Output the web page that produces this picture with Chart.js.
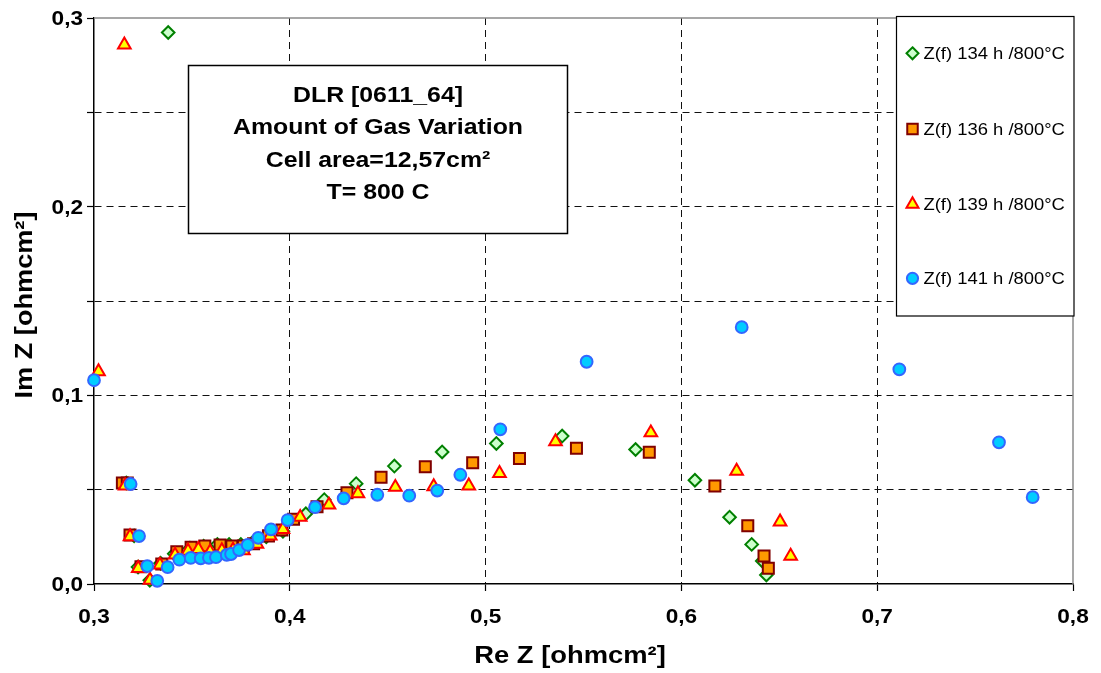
<!DOCTYPE html>
<html>
<head>
<meta charset="utf-8">
<title>DLR [0611_64] Amount of Gas Variation</title>
<script src="https://cdn.jsdelivr.net/npm/chart.js@4/dist/chart.umd.min.js"></script>
<style>
  html, body { margin: 0; padding: 0; background: #ffffff; }
  #wrap { width: 1101px; height: 673px; position: relative; }
</style>
</head>
<body>
<div id="wrap"><canvas id="nyquist" width="1101" height="673"></canvas></div>
<script>
// Impedance spectra (Nyquist plot): [Re Z, Im Z] in ohm·cm²
const seriesNames = ['Z(f) 134 h /800°C', 'Z(f) 136 h /800°C', 'Z(f) 139 h /800°C', 'Z(f) 141 h /800°C'];

const z134h = [
  [0.3379, 0.2923], [0.3165, 0.0535], [0.3205, 0.0255], [0.3225, 0.0090], [0.3285, 0.0020],
  [0.3340, 0.0110], [0.3410, 0.0160], [0.3490, 0.0190], [0.3560, 0.0200], [0.3630, 0.0210],
  [0.3690, 0.0210], [0.3750, 0.0210], [0.3810, 0.0220], [0.3880, 0.0250], [0.3965, 0.0280],
  [0.4082, 0.0372], [0.4176, 0.0447], [0.4339, 0.0532], [0.4534, 0.0625], [0.4778, 0.0700],
  [0.5055, 0.0745], [0.5391, 0.0784], [0.5766, 0.0713], [0.6069, 0.0550], [0.6246, 0.0354],
  [0.6359, 0.0210], [0.6413, 0.0122], [0.6434, 0.0048]
];

const z136h = [
  [0.3145, 0.0535], [0.3170, 0.0535], [0.3184, 0.0260], [0.3240, 0.0092], [0.3346, 0.0106],
  [0.3423, 0.0171], [0.3496, 0.0195], [0.3566, 0.0201], [0.3644, 0.0207], [0.3704, 0.0201],
  [0.3763, 0.0201], [0.3815, 0.0213], [0.3891, 0.0255], [0.3960, 0.0286], [0.4019, 0.0343],
  [0.4139, 0.0410], [0.4292, 0.0484], [0.4466, 0.0566], [0.4692, 0.0622], [0.4934, 0.0643],
  [0.5173, 0.0665], [0.5464, 0.0719], [0.5836, 0.0698], [0.6171, 0.0520], [0.6339, 0.0309],
  [0.6422, 0.0148], [0.6444, 0.0083]
];

const z139h = [
  [0.3023, 0.1126], [0.3155, 0.2858], [0.3159, 0.0520], [0.3184, 0.0251], [0.3226, 0.0083],
  [0.3286, 0.0021], [0.3337, 0.0101], [0.3414, 0.0154], [0.3480, 0.0175], [0.3533, 0.0184],
  [0.3593, 0.0171], [0.3653, 0.0177], [0.3710, 0.0180], [0.3763, 0.0177], [0.3832, 0.0212],
  [0.3900, 0.0255], [0.3965, 0.0290], [0.4053, 0.0354], [0.4200, 0.0419], [0.4348, 0.0479],
  [0.4539, 0.0513], [0.4735, 0.0516], [0.4914, 0.0520], [0.5071, 0.0587], [0.5357, 0.0755],
  [0.5844, 0.0802], [0.6282, 0.0599], [0.6504, 0.0330], [0.6558, 0.0148]
];

const z141h = [
  [0.3000, 0.1080], [0.3187, 0.0530], [0.3230, 0.0254], [0.3272, 0.0095], [0.3323, 0.0017],
  [0.3376, 0.0089], [0.3436, 0.0129], [0.3494, 0.0138], [0.3545, 0.0136], [0.3587, 0.0139],
  [0.3623, 0.0142], [0.3678, 0.0154], [0.3700, 0.0159], [0.3741, 0.0180], [0.3785, 0.0207],
  [0.3839, 0.0245], [0.3904, 0.0290], [0.3989, 0.0339], [0.4129, 0.0407], [0.4275, 0.0454],
  [0.4447, 0.0473], [0.4610, 0.0468], [0.4753, 0.0495], [0.4871, 0.0579], [0.5075, 0.0820],
  [0.5516, 0.1178], [0.6308, 0.1361], [0.7113, 0.1138], [0.7622, 0.0751], [0.7794, 0.0460]
];

const xTickValues = [0.3, 0.4, 0.5, 0.6, 0.7, 0.8];
const xTickLabels = ['0,3', '0,4', '0,5', '0,6', '0,7', '0,8'];
const yTickValues = [0.0, 0.1, 0.2, 0.3];
const yTickLabels = ['0,0', '0,1', '0,2', '0,3'];

const infoLines = ['DLR [0611_64]', 'Amount of Gas Variation', 'Cell area=12,57cm²', 'T= 800 C'];
const xTitle = 'Re Z [ohmcm²]';
const yTitle = 'Im Z [ohmcm²]';

// Marker styles per series
const markerStyles = [
  { style: 'rectRot',  radius: 6.3, fill: '#CCFFCC', stroke: '#008000' },
  { style: 'rect',     radius: 7.8, fill: '#FF9900', stroke: '#800000' },
  { style: 'triangle', radius: 7.3, fill: '#FFFF00', stroke: '#FF0000' },
  { style: 'circle',   radius: 5.9, fill: '#00CCFF', stroke: '#3366FF' }
];

const FONT = '"Liberation Sans", Arial, Helvetica, sans-serif';
const toPoints = arr => arr.map(([x, y]) => ({ x, y }));
const allSeries = [z134h, z136h, z139h, z141h];

const datasets = allSeries.map((arr, i) => ({
  label: seriesNames[i],
  data: toPoints(arr),
  showLine: false,
  pointStyle: markerStyles[i].style,
  pointRadius: markerStyles[i].radius,
  pointHoverRadius: markerStyles[i].radius,
  pointBackgroundColor: markerStyles[i].fill,
  pointBorderColor: markerStyles[i].stroke,
  pointBorderWidth: 2,
  clip: false,
  order: 4 - i   // later measurements are painted on top
}));

// Text drawn with a slight horizontal stretch
function wideText(ctx, text, x, y, align, sx, font, baseline) {
  ctx.save();
  ctx.font = font;
  ctx.fillStyle = '#000';
  ctx.textAlign = align;
  ctx.textBaseline = baseline || 'alphabetic';
  ctx.translate(x, y);
  ctx.scale(sx, 1);
  ctx.fillText(text, 0, 0);
  ctx.restore();
}

function drawMarker(ctx, m, x, y, scale) {
  ctx.save();
  ctx.fillStyle = m.fill;
  ctx.strokeStyle = m.stroke;
  ctx.lineWidth = 2;
  ctx.beginPath();
  const r = m.radius * scale;
  if (m.style === 'rectRot') {
    ctx.moveTo(x, y - r); ctx.lineTo(x + r, y); ctx.lineTo(x, y + r); ctx.lineTo(x - r, y); ctx.closePath();
  } else if (m.style === 'rect') {
    const h = Math.SQRT1_2 * r;
    ctx.rect(x - h, y - h, 2 * h, 2 * h);
  } else if (m.style === 'triangle') {
    ctx.moveTo(x, y - r);
    ctx.lineTo(x + r * Math.sin(2 * Math.PI / 3), y - r * Math.cos(2 * Math.PI / 3));
    ctx.lineTo(x + r * Math.sin(4 * Math.PI / 3), y - r * Math.cos(4 * Math.PI / 3));
    ctx.closePath();
  } else {
    ctx.arc(x, y, r, 0, Math.PI * 2);
  }
  ctx.fill();
  ctx.stroke();
  ctx.restore();
}

const frameAndLabels = {
  id: 'frameAndLabels',
  beforeDatasetsDraw(chart) {
    const { ctx, chartArea: a } = chart;
    // grey plot frame on top and right
    ctx.save();
    ctx.strokeStyle = '#8a8a8a';
    ctx.lineWidth = 1.5;
    ctx.beginPath();
    ctx.moveTo(a.left, a.top); ctx.lineTo(a.right, a.top); ctx.lineTo(a.right, a.bottom);
    ctx.stroke();
    ctx.restore();
  },
  afterDraw(chart) {
    const { ctx, chartArea: a } = chart;
    const xs = chart.scales.x, ys = chart.scales.y;
    const tickFont = 'bold 19.5px ' + FONT;

    xTickValues.forEach((v, i) => {
      wideText(ctx, xTickLabels[i], xs.getPixelForValue(v), a.bottom + 39, 'center', 1.16, tickFont);
    });
    yTickValues.forEach((v, i) => {
      wideText(ctx, yTickLabels[i], a.left - 11, ys.getPixelForValue(v) + 7, 'right', 1.16, tickFont);
    });

    // axis titles
    wideText(ctx, xTitle, 570, a.bottom + 79, 'center', 1.14, 'bold 24px ' + FONT);
    ctx.save();
    ctx.translate(32, 305);
    ctx.rotate(-Math.PI / 2);
    wideText(ctx, yTitle, 0, 0, 'center', 1.13, 'bold 24px ' + FONT);
    ctx.restore();

    // information box
    ctx.save();
    ctx.fillStyle = '#fff';
    ctx.strokeStyle = '#000';
    ctx.lineWidth = 1.5;
    ctx.fillRect(188.5, 65.5, 379, 168);
    ctx.strokeRect(188.5, 65.5, 379, 168);
    ctx.restore();
    const boxBaselines = [101.7, 134.3, 166.7, 199];
    infoLines.forEach((t, i) => {
      wideText(ctx, t, 378, boxBaselines[i], 'center', 1.13, 'bold 22px ' + FONT);
    });

    // legend box
    ctx.save();
    ctx.fillStyle = '#fff';
    ctx.strokeStyle = '#000';
    ctx.lineWidth = 1.2;
    ctx.fillRect(896.5, 16.5, 177.5, 299.5);
    ctx.strokeRect(896.5, 16.5, 177.5, 299.5);
    ctx.restore();
    const legendY = [53.3, 129, 204.3, 278.3];
    seriesNames.forEach((name, i) => {
      drawMarker(ctx, markerStyles[i], 912.5, legendY[i], 0.95);
      wideText(ctx, name, 923.5, legendY[i] + 5.8, 'left', 1.15, '16px ' + FONT);
    });
  }
};

new Chart(document.getElementById('nyquist'), {
  type: 'scatter',
  data: { datasets },
  plugins: [frameAndLabels],
  options: {
    responsive: false,
    animation: false,
    events: [],
    layout: { padding: { left: 0, right: 28, top: 18, bottom: 0 } },
    plugins: {
      legend: { display: false },
      tooltip: { enabled: false },
      title: { display: false }
    },
    scales: {
      x: {
        type: 'linear',
        min: 0.3,
        max: 0.8,
        ticks: { stepSize: 0.1, display: false },
        afterFit(scale) { scale.height = 89; },
        grid: {
          color: ctx => (ctx.index === 0 || ctx.index === 5) ? 'rgba(0,0,0,0)' : '#111',
          lineWidth: 1,
          tickColor: '#000',
          tickLength: 7,
          tickWidth: 1.2
        },
        border: { display: true, color: '#000', width: 1.5, dash: [7, 5] }
      },
      y: {
        type: 'linear',
        min: 0,
        max: 0.3,
        ticks: { stepSize: 0.05, display: false },
        afterFit(scale) { scale.width = 94; },
        grid: {
          color: ctx => (ctx.tick && (ctx.tick.value <= 0.0001 || ctx.tick.value >= 0.2999)) ? 'rgba(0,0,0,0)' : '#111',
          lineWidth: 1,
          tickColor: '#000',
          tickLength: 7,
          tickWidth: 1.2
        },
        border: { display: true, color: '#000', width: 1.5, dash: [7, 5] }
      }
    }
  }
});
</script>
</body>
</html>
